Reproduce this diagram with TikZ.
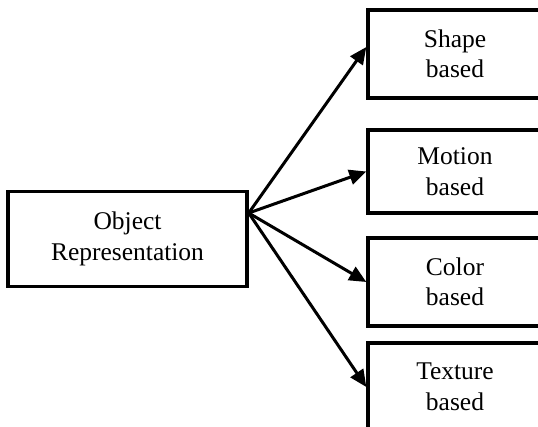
\documentclass[tikz,border=0pt]{standalone}
\usepackage{fontspec}
\setmainfont{Liberation Serif}
\usetikzlibrary{arrows.meta}
\begin{document}
\begin{tikzpicture}[x=1pt,y=-1pt,
  box/.style={draw=black, line width=3.4pt, fill=white, align=center, inner sep=0pt,
    font=\fontsize{25.5}{30.5}\selectfont, minimum width=174pt},
  arr/.style={line width=3pt, -{Triangle[length=17pt,width=15pt]}}]
\useasboundingbox (0,0) rectangle (538,427);
\clip (0,0) rectangle (538,427);
\fill[white] (0,0) rectangle (538,427);
\node[box, minimum width=239pt, minimum height=95pt] (obj) at (127.5,239) {Object\\Representation};
\node[box, minimum height=88pt] (shape) at (455,54) {Shape\\based};
\node[box, minimum height=83pt] (motion) at (455,171.5) {Motion\\based};
\node[box, minimum height=88pt] (color) at (455,282) {Color\\based};
\node[box, minimum height=88pt] (texture) at (455,387) {Texture\\based};
\coordinate (src) at ([yshift=26pt]obj.east);
\draw[arr] (src) -- ([yshift=7pt]shape.west);
\draw[arr] (src) -- (motion.west);
\draw[arr] (src) -- (color.west);
\draw[arr] (src) -- (texture.west);
\end{tikzpicture}
\end{document}
